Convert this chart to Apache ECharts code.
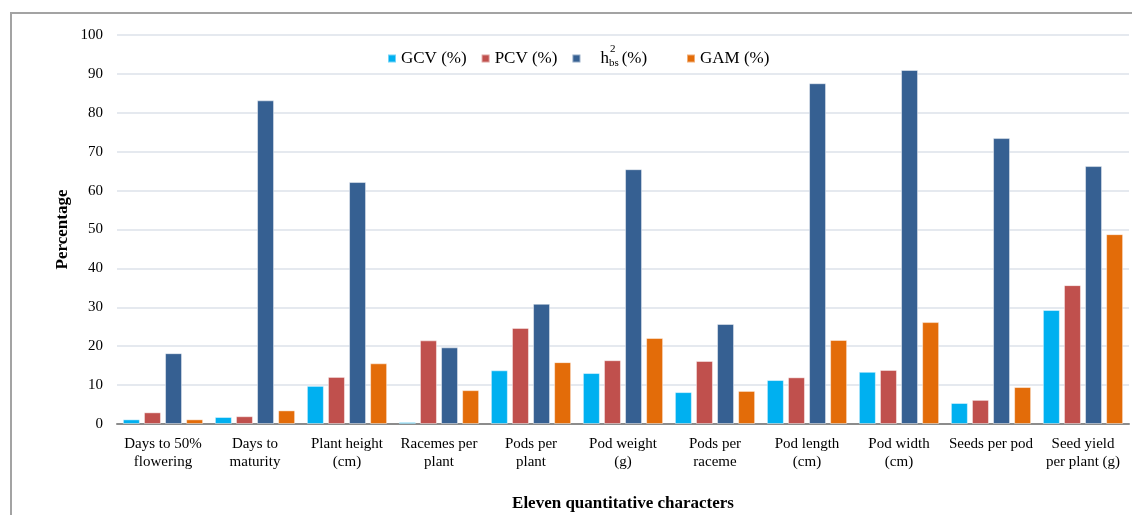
<!DOCTYPE html>
<html>
<head>
<meta charset="utf-8">
<script src="https://cdn.jsdelivr.net/npm/echarts@6/dist/echarts.min.js"></script>
<style>
    html, body { margin: 0; padding: 0; background: #fff; }
    #main { width: 1132px; height: 515px; }
</style>
</head>
<body>
<div id="main"></div>
<script>
// 类别与数据
var categories = ['Days to 50%\nflowering', 'Days to\nmaturity', 'Plant height\n(cm)', 'Racemes per\nplant',
    'Pods per\nplant', 'Pod weight\n(g)', 'Pods per\nraceme', 'Pod length\n(cm)', 'Pod width\n(cm)',
    'Seeds per pod', 'Seed yield\nper plant (g)'];
var seriesNames = ['GCV (%)', 'PCV (%)', 'h2bs (%)', 'GAM (%)'];
var gcv = [1.2, 1.8, 9.8, 0.5, 13.8, 13.1, 8.2, 11.3, 13.4, 5.4, 29.3];
var pcv = [3.0, 2.0, 12.1, 21.5, 24.7, 16.4, 16.2, 12.0, 13.9, 6.2, 35.7];
var h2bs = [18.2, 83.2, 62.2, 19.7, 30.9, 65.5, 25.7, 87.6, 91.0, 73.5, 66.3];
var gam = [1.2, 3.5, 15.6, 8.7, 15.9, 22.1, 8.5, 21.6, 26.2, 9.5, 48.8];
var yTicks = [0, 100, 10];

var serif = '"Liberation Serif", "DejaVu Serif", serif';
var colors = ['#00b0f0', '#c0504d', '#366092', '#e36c09'];

function bar(name, data, color) {
    return {
        name: name,
        type: 'bar',
        barWidth: 17,
        barGap: '24%',
        itemStyle: {
            color: color,
            borderColor: 'rgba(255,255,255,0.45)',
            borderWidth: 1
        },
        data: data
    };
}

var legendText = {
    fontFamily: serif, fontSize: 17, color: '#000',
    rich: {
        h: { fontFamily: serif, fontSize: 17, color: '#000', padding: [0, 0, 0, 15] },
        s: { fontFamily: serif, fontSize: 11, color: '#000', padding: [9, 3, 0, 0] },
        t: { fontFamily: serif, fontSize: 17, color: '#000' }
    }
};

function legendFmt(name) {
    if (name === 'h2bs (%)') {
        return '{h|h}{s|bs}{t|(%)}';
    }
    return name;
}

var chart = echarts.init(document.getElementById('main'));
chart.setOption({
    animation: false,
    color: colors,
    textStyle: { fontFamily: serif },
    grid: { left: 117, right: 3, top: 35, bottom: 91, outerBoundsMode: 'none', containLabel: false },
    graphic: [
        {
            type: 'rect',
            shape: { x: 11, y: 13, width: 1160, height: 540 },
            style: { fill: 'none', stroke: '#a3a3a3', lineWidth: 2 },
            z: 0
        },
        {
            // h2bs 上标
            type: 'text',
            x: 610,
            y: 44,
            style: { text: '2', font: '11px ' + serif, fill: '#000' },
            z: 10
        }
    ],
    legend: [
        {
            left: 387,
            top: 50,
            padding: 0,
            itemWidth: 8,
            itemHeight: 8,
            itemGap: 14,
            icon: 'rect',
            data: seriesNames.slice(0, 3),
            formatter: legendFmt,
            textStyle: legendText
        },
        {
            left: 686,
            top: 50,
            padding: 0,
            itemWidth: 8,
            itemHeight: 8,
            icon: 'rect',
            data: seriesNames.slice(3),
            textStyle: legendText
        }
    ],
    xAxis: {
        type: 'category',
        data: categories,
        name: 'Eleven quantitative characters',
        nameLocation: 'middle',
        nameGap: 71,
        nameTextStyle: { fontFamily: serif, fontSize: 17, fontWeight: 'bold', color: '#000' },
        axisLine: { lineStyle: { color: '#8c8c8c', width: 2 } },
        axisTick: { show: false },
        axisLabel: {
            interval: 0,
            margin: 11,
            fontFamily: serif,
            fontSize: 15,
            lineHeight: 18,
            color: '#000'
        }
    },
    yAxis: {
        type: 'value',
        min: yTicks[0],
        max: yTicks[1],
        interval: yTicks[2],
        name: 'Percentage',
        nameLocation: 'middle',
        nameGap: 46,
        nameMoveOverlap: false,
        nameTextStyle: { fontFamily: serif, fontSize: 17, fontWeight: 'bold', color: '#000' },
        axisLine: { show: false },
        axisTick: { show: false },
        axisLabel: { fontFamily: serif, fontSize: 15, color: '#000', margin: 14 },
        splitLine: { lineStyle: { color: '#dde2ea', width: 1.5 } }
    },
    series: [
        bar(seriesNames[0], gcv, colors[0]),
        bar(seriesNames[1], pcv, colors[1]),
        bar(seriesNames[2], h2bs, colors[2]),
        bar(seriesNames[3], gam, colors[3])
    ]
});
</script>
</body>
</html>
